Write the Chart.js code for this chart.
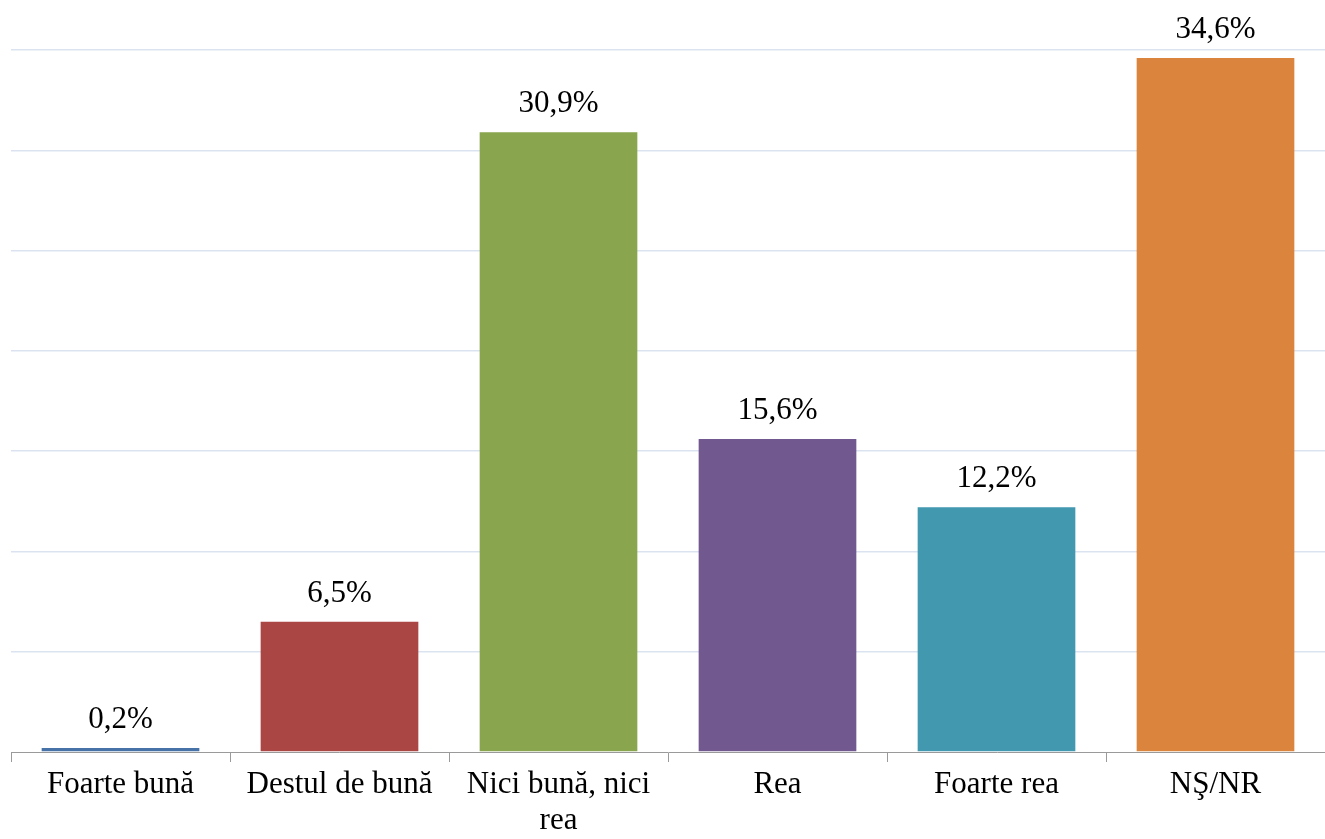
<!DOCTYPE html>
<html>
<head>
<meta charset="utf-8">
<script src="https://cdn.jsdelivr.net/npm/chart.js@4"></script>
<style>
    html, body { margin: 0; padding: 0; background: #fff; }
    #wrap { width: 1325px; height: 839px; }
</style>
</head>
<body>
<div id="wrap"><canvas id="chart"></canvas></div>
<script>
const categories = ['Foarte bună', 'Destul de bună', ['Nici bună, nici', 'rea'], 'Rea', 'Foarte rea', 'NŞ/NR'];
const values = [0.2, 6.5, 30.9, 15.6, 12.2, 34.6];
const barColors = ['#4672a8', '#aa4643', '#89a54e', '#71588f', '#4198af', '#db843d'];

const FONT = '"Liberation Serif", "Times New Roman", serif';

// value labels above each bar
const valueLabels = {
    id: 'valueLabels',
    afterDatasetsDraw(chart) {
        const ctx = chart.ctx;
        const meta = chart.getDatasetMeta(0);
        ctx.save();
        ctx.font = '31px ' + FONT;
        ctx.fillStyle = '#000';
        ctx.textAlign = 'center';
        ctx.textBaseline = 'alphabetic';
        meta.data.forEach((bar, i) => {
            const txt = values[i].toFixed(1).replace('.', ',') + '%';
            ctx.fillText(txt, bar.x, bar.y - 20);
        });
        ctx.restore();
    }
};

const ctx = document.getElementById('chart').getContext('2d');
new Chart(ctx, {
    type: 'bar',
    data: {
        labels: categories,
        datasets: [{
            data: values,
            backgroundColor: barColors,
            barPercentage: 0.72,
            categoryPercentage: 1
        }]
    },
    options: {
        responsive: true,
        maintainAspectRatio: false,
        animation: false,
        layout: { padding: { top: 50, left: 11, right: -5, bottom: 0 } },
        plugins: {
            legend: { display: false },
            tooltip: { enabled: false }
        },
        scales: {
            x: {
                grid: {
                    drawOnChartArea: false,
                    drawTicks: true,
                    tickLength: 10,
                    color: '#9a9a9a',
                    lineWidth: 1
                },
                border: { color: '#9a9a9a', width: 1 },
                ticks: {
                    color: '#000',
                    padding: 5,
                    maxRotation: 0,
                    autoSkip: false,
                    font: { family: FONT, size: 31, lineHeight: 1.16 }
                },
                afterFit(scale) { scale.height = 87; }
            },
            y: {
                min: 0,
                max: 35,
                ticks: { display: false, stepSize: 5 },
                grid: {
                    drawTicks: false,
                    color: ctx => ctx.tick.value === 0 ? 'rgba(0,0,0,0)' : '#dbe3f1',
                    lineWidth: 1.5
                },
                border: { display: false },
                afterFit(scale) { scale.width = 0; }
            }
        }
    },
    plugins: [valueLabels]
});
</script>
</body>
</html>
